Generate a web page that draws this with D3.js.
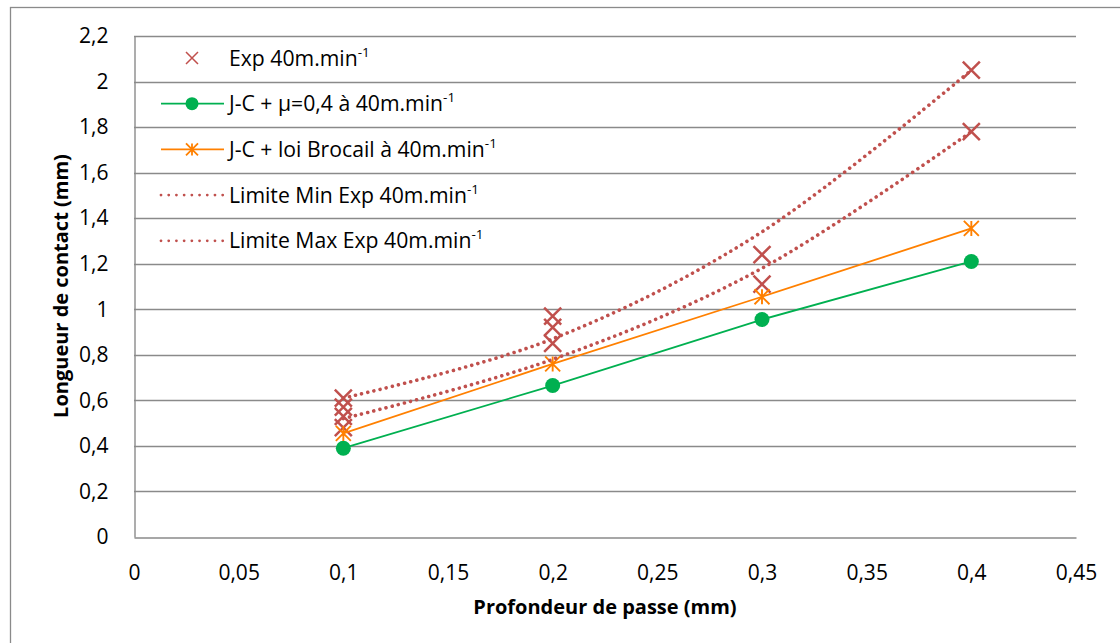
<!DOCTYPE html>
<html>
<head>
<meta charset="utf-8">
<script src="https://cdn.jsdelivr.net/npm/d3@7/dist/d3.min.js"></script>
<style>
  html, body { margin: 0; padding: 0; background: #fff; }
  svg { display: block; }
  text { font-family: "Open Sans", sans-serif; fill: #000; }
</style>
</head>
<body>
<svg id="chart" width="1120" height="643"></svg>
<script>
// ---- data ----
const depths = [0.1, 0.2, 0.3, 0.4];
const expValues = [
  [0.61, 0.57, 0.53, 0.48],
  [0.97, 0.92, 0.85],
  [1.24, 1.11],
  [2.05, 1.78]
];
const jcMuValues = [0.39, 0.665, 0.955, 1.21];
const jcBrocailValues = [0.455, 0.76, 1.055, 1.355];
const limMinValues = [0.52, 0.78, 1.18, 1.78];
const limMaxValues = [0.61, 0.87, 1.34, 2.05];
const xTicks = [0, 0.05, 0.1, 0.15, 0.2, 0.25, 0.3, 0.35, 0.4, 0.45];
const yTicks = [0, 0.2, 0.4, 0.6, 0.8, 1, 1.2, 1.4, 1.6, 1.8, 2, 2.2];
const legendNames = [
  "Exp 40m.min",
  "J-C + μ=0,4 à 40m.min",
  "J-C + loi Brocail à 40m.min",
  "Limite Min Exp 40m.min",
  "Limite Max Exp 40m.min"
];
const xTitle = "Profondeur de passe (mm)";
const yTitle = "Longueur de contact (mm)";

// ---- styles ----
const RED = "#C0504D", GREEN = "#00B050", ORANGE = "#FF8000", GRID = "#8a8a8a";

const svg = d3.select("#chart");
const plot = { left: 134, right: 1076, top: 36, bottom: 537 };
const x = d3.scaleLinear().domain([0, 0.45]).range([plot.left, plot.right]);
const y = d3.scaleLinear().domain([0, 2.2]).range([plot.bottom, plot.top]);
const fmt = v => String(+v.toFixed(2)).replace(".", ",");

// outer chart border
svg.append("rect").attr("x", 10.5).attr("y", 7.5).attr("width", 1200).attr("height", 700)
  .attr("fill", "none").attr("stroke", GRID).attr("stroke-width", 1.3);

// gridlines
svg.append("g").selectAll("line").data(yTicks.filter(d => d > 0)).join("line")
  .attr("x1", plot.left).attr("x2", plot.right)
  .attr("y1", d => Math.round(y(d)) + 0.5).attr("y2", d => Math.round(y(d)) + 0.5)
  .attr("stroke", GRID).attr("stroke-width", 1.4);

// axes
const yAxis = d3.axisLeft(y).tickValues(yTicks).tickFormat(fmt).tickSize(0).tickPadding(26);
const gy = svg.append("g").attr("transform", `translate(${plot.left + 0.5},0)`).call(yAxis);
gy.select(".domain").attr("stroke", GRID).attr("stroke-width", 1.4);
gy.selectAll("text").attr("font-size", 21).attr("font-family", "Open Sans").attr("fill", "#000");

const xAxis = d3.axisBottom(x).tickValues(xTicks).tickFormat(fmt).tickSize(0).tickPadding(28);
const gx = svg.append("g").attr("transform", `translate(0,${Math.round(plot.bottom) + 0.5})`).call(xAxis);
gx.select(".domain").attr("stroke", GRID).attr("stroke-width", 1.4);
gx.selectAll("text").attr("font-size", 21).attr("font-family", "Open Sans").attr("fill", "#000");

// axis titles
svg.append("text").attr("x", (plot.left + plot.right) / 2).attr("y", 614)
  .attr("text-anchor", "middle").attr("font-size", 20).attr("font-weight", "bold").text(xTitle);
svg.append("text").attr("transform", "translate(68,286) rotate(-90)")
  .attr("text-anchor", "middle").attr("font-size", 20).attr("font-weight", "bold").text(yTitle);

// marker helpers
function drawX(g, cx, cy, s, w) {
  g.append("path").attr("d", `M${cx - s},${cy - s}L${cx + s},${cy + s}M${cx - s},${cy + s}L${cx + s},${cy - s}`)
    .attr("stroke", RED).attr("stroke-width", w).attr("fill", "none");
}
function drawStar(g, cx, cy, s, w) {
  g.append("path").attr("d",
    `M${cx},${cy - s}L${cx},${cy + s}M${cx - s},${cy - s}L${cx + s},${cy + s}M${cx - s},${cy + s}L${cx + s},${cy - s}`)
    .attr("stroke", ORANGE).attr("stroke-width", w).attr("fill", "none");
}

const line = d3.line().x((d, i) => x(depths[i])).y(d => y(d));
const smooth = d3.line().x((d, i) => x(depths[i])).y(d => y(d)).curve(d3.curveCardinal.tension(0));

// Exp markers
const gExp = svg.append("g");
expValues.forEach((vals, i) => vals.forEach(v => drawX(gExp, x(depths[i]), y(v), 8.5, 2.5)));

// J-C + mu
svg.append("path").datum(jcMuValues).attr("d", line).attr("fill", "none").attr("stroke", GREEN).attr("stroke-width", 1.8);
svg.append("g").selectAll("circle").data(jcMuValues).join("circle")
  .attr("cx", (d, i) => x(depths[i])).attr("cy", d => y(d)).attr("r", 7.5).attr("fill", GREEN);

// J-C + Brocail
svg.append("path").datum(jcBrocailValues).attr("d", line).attr("fill", "none").attr("stroke", ORANGE).attr("stroke-width", 1.8);
const gStar = svg.append("g");
jcBrocailValues.forEach((v, i) => drawStar(gStar, x(depths[i]), y(v), 7.5, 1.9));

// limits (dotted smooth)
[limMinValues, limMaxValues].forEach(vals => {
  svg.append("path").datum(vals).attr("d", smooth).attr("fill", "none")
    .attr("stroke", RED).attr("stroke-width", 3.6).attr("stroke-linecap", "round")
    .attr("stroke-dasharray", "0.01 6.3");
});

// legend
const lg = svg.append("g");
const rowY = i => 58 + i * 45.7;
const mx = 192, lx1 = 161, lx2 = 224, tx = 229;
// row 0
drawX(lg, mx, rowY(0), 6, 1.5);
// row 1
lg.append("line").attr("x1", lx1).attr("x2", lx2).attr("y1", rowY(1)).attr("y2", rowY(1)).attr("stroke", GREEN).attr("stroke-width", 1.8);
lg.append("circle").attr("cx", mx).attr("cy", rowY(1)).attr("r", 6.5).attr("fill", GREEN);
// row 2
lg.append("line").attr("x1", lx1).attr("x2", lx2).attr("y1", rowY(2)).attr("y2", rowY(2)).attr("stroke", ORANGE).attr("stroke-width", 1.8);
drawStar(lg, mx, rowY(2), 6, 1.8);
// rows 3,4
[3, 4].forEach(i => lg.append("line").attr("x1", lx1).attr("x2", lx2).attr("y1", rowY(i)).attr("y2", rowY(i))
  .attr("stroke", RED).attr("stroke-width", 2.8).attr("stroke-linecap", "round").attr("stroke-dasharray", "0.01 7.7"));
legendNames.forEach((name, i) => {
  const t = lg.append("text").attr("x", tx).attr("y", rowY(i) + 7.5).attr("font-size", 21.2);
  t.append("tspan").text(name);
  t.append("tspan").attr("font-size", 13.5).attr("dy", -9).text("-1");
});
</script>
</body>
</html>
